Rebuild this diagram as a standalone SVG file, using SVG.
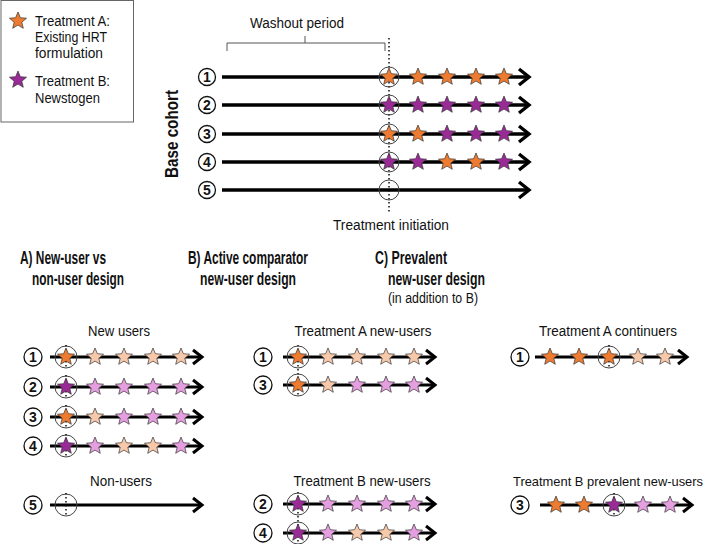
<svg xmlns="http://www.w3.org/2000/svg" xmlns:xlink="http://www.w3.org/1999/xlink" width="709" height="544" viewBox="0 0 709 544">
<style>
text{font-family:"Liberation Sans",Arial,sans-serif;fill:#111}
.lbl{font-size:14px}
.hd{font-size:17.5px;font-weight:bold}
.num{font-size:14px;font-weight:bold;text-anchor:middle}
.nc{fill:#fff;stroke:#111;stroke-width:1.3}
.ic{fill:none;stroke:#444;stroke-width:1}
.tl{stroke:#000;stroke-width:3.6;fill:none;marker-end:url(#ah)}
.tl2{stroke:#000;stroke-width:3;fill:none;marker-end:url(#ah2)}
.dot{stroke:#111;stroke-width:1.5;stroke-dasharray:1.5 2.5;fill:none}
.o{fill:#EE7B30}
.p{fill:#9A2A96}
.lo{fill:#F8C8AA}
.lp{fill:#E59EDF}
</style>
<defs>
<path id="st" d="M0,-9 L2.35,-3.3 L8.56,-2.78 L3.8,1.25 L5.29,7.28 L0,4.1 L-5.29,7.28 L-3.8,1.25 L-8.56,-2.78 L-2.35,-3.3 Z" stroke="#333" stroke-width="0.7"/>
<marker id="ah" markerUnits="userSpaceOnUse" markerWidth="16" markerHeight="20" viewBox="0 0 16 20" refX="12" refY="10" orient="auto" overflow="visible">
<path d="M2,2 L12,10 L2,18" fill="none" stroke="#000" stroke-width="3.4"/>
</marker>
<marker id="ah2" markerUnits="userSpaceOnUse" markerWidth="16" markerHeight="20" viewBox="0 0 16 20" refX="12" refY="10" orient="auto" overflow="visible">
<path d="M3,3 L12,10 L3,17" fill="none" stroke="#000" stroke-width="3"/>
</marker>
</defs>
<rect width="709" height="544" fill="#fff"/>

<g id="legend">
<rect x="1" y="0.5" width="132.5" height="121.5" fill="#fff" stroke="#666" stroke-width="1"/>
<use href="#st" x="18" y="21" class="o"/>
<text class="lbl" x="35" y="26" textLength="75" lengthAdjust="spacingAndGlyphs">Treatment A:</text>
<text class="lbl" x="35" y="42" textLength="72" lengthAdjust="spacingAndGlyphs">Existing HRT</text>
<text class="lbl" x="35" y="58" textLength="68" lengthAdjust="spacingAndGlyphs">formulation</text>
<use href="#st" x="18" y="80" class="p"/>
<text class="lbl" x="35" y="86" textLength="75" lengthAdjust="spacingAndGlyphs">Treatment B:</text>
<text class="lbl" x="35" y="102.5" textLength="65" lengthAdjust="spacingAndGlyphs">Newstogen</text>
</g>

<g id="base-cohort-labels">
<text class="hd" transform="translate(178,134) rotate(-90)" text-anchor="middle" textLength="88" lengthAdjust="spacingAndGlyphs">Base cohort</text>
<text class="lbl" x="297" y="28" text-anchor="middle" textLength="94" lengthAdjust="spacingAndGlyphs">Washout period</text>
<path d="M227,51 V43 H305 V36 M305,43 H385 V51" fill="none" stroke="#555" stroke-width="1"/>
<text class="lbl" x="391" y="230" text-anchor="middle" textLength="116" lengthAdjust="spacingAndGlyphs">Treatment initiation</text>
<path class="dot" d="M389,38 V214"/>
</g>

<g id="connectors">
<path class="tl" d="M222,77 H529"/>
<path class="tl" d="M222,105 H529"/>
<path class="tl" d="M222,134 H529"/>
<path class="tl" d="M222,162 H529"/>
<path class="tl" d="M222,190 H529"/>
<path class="tl2" d="M50,357 H202"/>
<path class="tl2" d="M50,387 H202"/>
<path class="tl2" d="M50,417 H202"/>
<path class="tl2" d="M50,446 H202"/>
<path class="tl2" d="M50,505 H202"/>
<path class="tl2" d="M283,357 H435"/>
<path class="tl2" d="M283,385 H435"/>
<path class="tl2" d="M283,504 H435"/>
<path class="tl2" d="M283,533 H435"/>
<path class="tl2" d="M535,357 H687"/>
<path class="tl2" d="M540,505 H692"/>
</g>

<g id="base-row-1">
<circle class="nc" cx="207" cy="77" r="8.5"/><text class="num" x="207" y="82">1</text>
<circle class="ic" cx="389" cy="77" r="10"/>
<use href="#st" x="389" y="77" class="o"/><use href="#st" x="418" y="77" class="o"/><use href="#st" x="447" y="77" class="o"/><use href="#st" x="476" y="77" class="o"/><use href="#st" x="504" y="77" class="o"/>
</g>
<g id="base-row-2">
<circle class="nc" cx="207" cy="105" r="8.5"/><text class="num" x="207" y="110">2</text>
<circle class="ic" cx="389" cy="105" r="10"/>
<use href="#st" x="389" y="105" class="p"/><use href="#st" x="418" y="105" class="p"/><use href="#st" x="447" y="105" class="p"/><use href="#st" x="476" y="105" class="p"/><use href="#st" x="504" y="105" class="p"/>
</g>
<g id="base-row-3">
<circle class="nc" cx="207" cy="134" r="8.5"/><text class="num" x="207" y="139">3</text>
<circle class="ic" cx="389" cy="134" r="10"/>
<use href="#st" x="389" y="134" class="o"/><use href="#st" x="418" y="134" class="o"/><use href="#st" x="447" y="134" class="p"/><use href="#st" x="476" y="134" class="p"/><use href="#st" x="504" y="134" class="p"/>
</g>
<g id="base-row-4">
<circle class="nc" cx="207" cy="162" r="8.5"/><text class="num" x="207" y="167">4</text>
<circle class="ic" cx="389" cy="162" r="10"/>
<use href="#st" x="389" y="162" class="p"/><use href="#st" x="418" y="162" class="p"/><use href="#st" x="447" y="162" class="o"/><use href="#st" x="476" y="162" class="o"/><use href="#st" x="504" y="162" class="p"/>
</g>
<g id="base-row-5">
<circle class="nc" cx="207" cy="190" r="8.5"/><text class="num" x="207" y="195">5</text>
<circle class="ic" cx="389" cy="190" r="10"/>
</g>

<g id="panel-A-title">
<text class="hd" x="20" y="264" textLength="86" lengthAdjust="spacingAndGlyphs">A) New-user vs</text>
<text class="hd" x="32" y="285" textLength="92" lengthAdjust="spacingAndGlyphs">non-user design</text>
<text class="lbl" x="119" y="336" text-anchor="middle" textLength="62" lengthAdjust="spacingAndGlyphs">New users</text>
<text class="lbl" x="121" y="486" text-anchor="middle" textLength="62" lengthAdjust="spacingAndGlyphs">Non-users</text>
</g>
<g id="A-row-1">
<circle class="nc" cx="33" cy="357" r="9"/><text class="num" x="33" y="362">1</text>
<circle class="ic" cx="66" cy="357" r="11"/><path class="dot" d="M66,345 V369"/>
<use href="#st" x="66" y="357" class="o"/><use href="#st" x="95" y="357" class="lo"/><use href="#st" x="124" y="357" class="lo"/><use href="#st" x="153" y="357" class="lo"/><use href="#st" x="181" y="357" class="lo"/>
</g>
<g id="A-row-2">
<circle class="nc" cx="33" cy="387" r="9"/><text class="num" x="33" y="392">2</text>
<circle class="ic" cx="66" cy="387" r="11"/><path class="dot" d="M66,375 V399"/>
<use href="#st" x="66" y="387" class="p"/><use href="#st" x="95" y="387" class="lp"/><use href="#st" x="124" y="387" class="lp"/><use href="#st" x="153" y="387" class="lp"/><use href="#st" x="181" y="387" class="lp"/>
</g>
<g id="A-row-3">
<circle class="nc" cx="33" cy="417" r="9"/><text class="num" x="33" y="422">3</text>
<circle class="ic" cx="66" cy="417" r="11"/><path class="dot" d="M66,405 V429"/>
<use href="#st" x="66" y="417" class="o"/><use href="#st" x="95" y="417" class="lo"/><use href="#st" x="124" y="417" class="lp"/><use href="#st" x="153" y="417" class="lp"/><use href="#st" x="181" y="417" class="lp"/>
</g>
<g id="A-row-4">
<circle class="nc" cx="33" cy="446" r="9"/><text class="num" x="33" y="451">4</text>
<circle class="ic" cx="66" cy="446" r="11"/><path class="dot" d="M66,434 V458"/>
<use href="#st" x="66" y="446" class="p"/><use href="#st" x="95" y="446" class="lp"/><use href="#st" x="124" y="446" class="lo"/><use href="#st" x="153" y="446" class="lo"/><use href="#st" x="181" y="446" class="lp"/>
</g>
<g id="A-row-5">
<circle class="nc" cx="33" cy="505" r="9"/><text class="num" x="33" y="510">5</text>
<circle class="ic" cx="66" cy="505" r="11"/><path class="dot" d="M66,493 V517"/>
</g>

<g id="panel-B-title">
<text class="hd" x="188" y="264" textLength="120" lengthAdjust="spacingAndGlyphs">B) Active comparator</text>
<text class="hd" x="200" y="285" textLength="96" lengthAdjust="spacingAndGlyphs">new-user design</text>
<text class="lbl" x="363" y="336" text-anchor="middle" textLength="137" lengthAdjust="spacingAndGlyphs">Treatment A new-users</text>
<text class="lbl" x="362" y="486" text-anchor="middle" textLength="137" lengthAdjust="spacingAndGlyphs">Treatment B new-users</text>
<path class="dot" d="M298,345 V397"/>
<path class="dot" d="M298,492 V544"/>
</g>
<g id="B-row-1">
<circle class="nc" cx="263" cy="357" r="9"/><text class="num" x="263" y="362">1</text>
<circle class="ic" cx="298" cy="357" r="11"/>
<use href="#st" x="298" y="357" class="o"/><use href="#st" x="328" y="357" class="lo"/><use href="#st" x="357" y="357" class="lo"/><use href="#st" x="386" y="357" class="lo"/><use href="#st" x="414" y="357" class="lo"/>
</g>
<g id="B-row-3">
<circle class="nc" cx="263" cy="385" r="9"/><text class="num" x="263" y="390">3</text>
<circle class="ic" cx="298" cy="385" r="11"/>
<use href="#st" x="298" y="385" class="o"/><use href="#st" x="328" y="385" class="lo"/><use href="#st" x="357" y="385" class="lp"/><use href="#st" x="386" y="385" class="lp"/><use href="#st" x="414" y="385" class="lp"/>
</g>
<g id="B-row-2">
<circle class="nc" cx="263" cy="504" r="9"/><text class="num" x="263" y="509">2</text>
<circle class="ic" cx="298" cy="504" r="11"/>
<use href="#st" x="298" y="504" class="p"/><use href="#st" x="328" y="504" class="lp"/><use href="#st" x="357" y="504" class="lp"/><use href="#st" x="386" y="504" class="lp"/><use href="#st" x="414" y="504" class="lp"/>
</g>
<g id="B-row-4">
<circle class="nc" cx="263" cy="533" r="9"/><text class="num" x="263" y="538">4</text>
<circle class="ic" cx="298" cy="533" r="11"/>
<use href="#st" x="298" y="533" class="p"/><use href="#st" x="328" y="533" class="lp"/><use href="#st" x="357" y="533" class="lo"/><use href="#st" x="386" y="533" class="lo"/><use href="#st" x="414" y="533" class="lp"/>
</g>

<g id="panel-C-title">
<text class="hd" x="375" y="264" textLength="72" lengthAdjust="spacingAndGlyphs">C) Prevalent</text>
<text class="hd" x="388" y="285" textLength="97" lengthAdjust="spacingAndGlyphs">new-user design</text>
<text x="388" y="303" style="font-size:15.5px" textLength="90" lengthAdjust="spacingAndGlyphs">(in addition to B)</text>
<text class="lbl" x="608" y="336" text-anchor="middle" textLength="138" lengthAdjust="spacingAndGlyphs">Treatment A continuers</text>
<text x="608" y="486" text-anchor="middle" style="font-size:13px" textLength="190" lengthAdjust="spacingAndGlyphs">Treatment B prevalent new-users</text>
</g>
<g id="C-row-1">
<circle class="nc" cx="520" cy="357" r="9"/><text class="num" x="520" y="362">1</text>
<circle class="ic" cx="609" cy="357" r="11"/><path class="dot" d="M609,345 V369"/>
<use href="#st" x="550" y="357" class="o"/><use href="#st" x="579" y="357" class="o"/><use href="#st" x="609" y="357" class="o"/><use href="#st" x="638" y="357" class="lo"/><use href="#st" x="665" y="357" class="lo"/>
</g>
<g id="C-row-3">
<circle class="nc" cx="520" cy="505" r="9"/><text class="num" x="520" y="510">3</text>
<circle class="ic" cx="614" cy="505" r="11"/><path class="dot" d="M614,493 V517"/>
<use href="#st" x="556" y="505" class="o"/><use href="#st" x="584" y="505" class="o"/><use href="#st" x="614" y="505" class="p"/><use href="#st" x="643" y="505" class="lp"/><use href="#st" x="670" y="505" class="lp"/>
</g>
</svg>
